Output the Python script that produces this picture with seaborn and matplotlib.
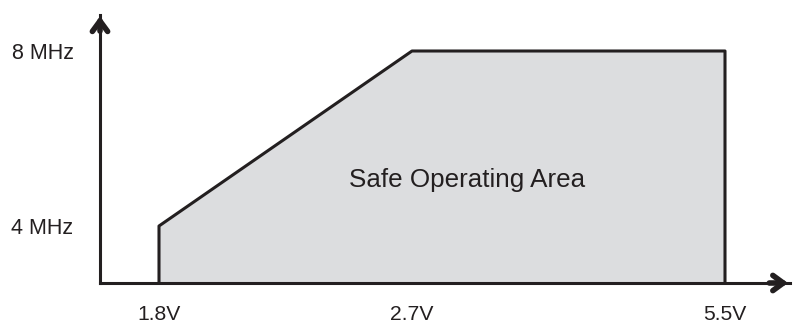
import matplotlib
matplotlib.use("Agg")
import matplotlib.pyplot as plt
import numpy as np
import seaborn as sns

# outline of the safe operating area (voltage in V, clock in MHz)
volts = [1.8, 1.8, 2.7, 5.5, 5.5]
freq_mhz = [0, 4, 8, 8, 0]
xticks = [1.8, 2.7, 5.5]
xlabels = ["1.8V", "2.7V", "5.5V"]
yticks = [4, 8]
ylabels = ["4 MHz", "8 MHz"]
area_label = "Safe Operating Area"

sns.set_style("white")
plt.rcParams["font.family"] = ["Liberation Sans", "DejaVu Sans"]

ink = "#231f20"
fill = "#dcdddf"

fig = plt.figure(figsize=(7.93, 3.26), dpi=100)
ax = fig.add_axes([100 / 793, 43 / 326, 690 / 793, 268 / 326])

# schematic (non-linear) axes: piecewise-linear mapping of the tick values
xs_v = [1.59, 1.8, 2.7, 5.5, 6.09]
xs_p = [0, 59, 312, 625, 690]
ys_v = [0, 4, 8, 9]
ys_p = [0, 57, 232, 268]
ax.set_xscale("function", functions=(lambda v: np.interp(v, xs_v, xs_p),
                                     lambda p: np.interp(p, xs_p, xs_v)))
ax.set_yscale("function", functions=(lambda v: np.interp(v, ys_v, ys_p),
                                     lambda p: np.interp(p, ys_p, ys_v)))

ax.fill_between(volts, freq_mhz, color=fill, lw=0, zorder=1)
sns.lineplot(x=volts, y=freq_mhz, sort=False, estimator=None, color=ink,
             lw=2.2, ax=ax, zorder=2)

ax.set_xlim(xs_v[0], xs_v[-1])
ax.set_ylim(ys_v[0], ys_v[-1])

ax.text(3.19, 5.05, area_label, fontsize=18.7, color=ink, ha="center", va="center")

ax.set_xticks(xticks, xlabels)
ax.set_yticks(yticks, ylabels)
ax.tick_params(axis="x", length=0, pad=15.5, labelsize=15.2, colors=ink)
ax.tick_params(axis="y", length=0, pad=19, labelsize=15.5, colors=ink)

for s in ["top", "right"]:
    ax.spines[s].set_visible(False)
for s in ["left", "bottom"]:
    ax.spines[s].set_color(ink)
    ax.spines[s].set_linewidth(2.2)
    ax.spines[s].set_zorder(3)

# chevron arrow heads on the axes
head = dict(arrowstyle="->,head_length=0.75,head_width=0.55",
            color=ink, lw=4, shrinkA=0, shrinkB=0, joinstyle="miter")
ax.annotate("", xy=(0, 0.995), xytext=(0, 0.94), xycoords="axes fraction",
            arrowprops=head, annotation_clip=False)
ax.annotate("", xy=(0.997, 0), xytext=(0.97, 0), xycoords="axes fraction",
            arrowprops=head, annotation_clip=False)

fig.savefig("out.png", dpi=100)
